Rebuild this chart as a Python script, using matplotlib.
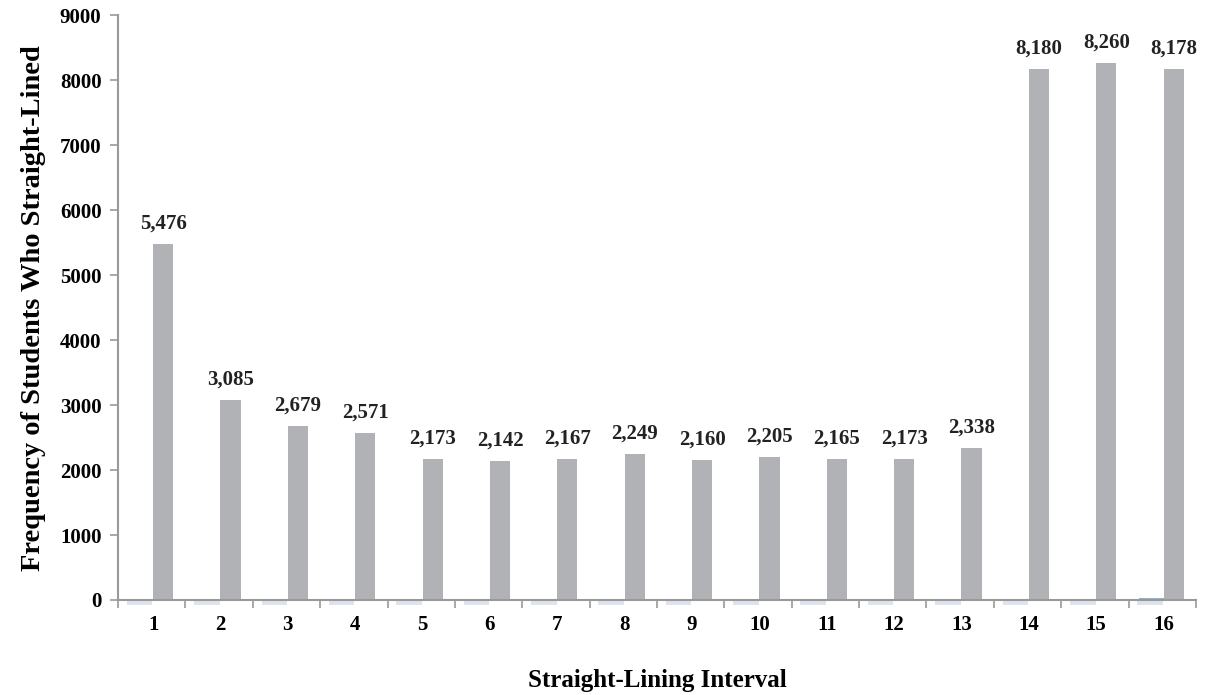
import matplotlib.pyplot as plt
import numpy as np

# interval numbers and frequencies
intervals = [str(i) for i in range(1, 17)]
frequency = [5476, 3085, 2679, 2571, 2173, 2142, 2167, 2249, 2160, 2205, 2165, 2173, 2338, 8180, 8260, 8178]
# tiny second series sitting at zero (only visible at 16)
baseline = [0, 0, 0, 0, 0, 0, 0, 0, 0, 0, 0, 0, 0, 0, 0, 25]

plt.rcParams['font.family'] = ['Liberation Serif', 'DejaVu Serif']
plt.rcParams['font.weight'] = 'bold'

fig = plt.figure(figsize=(12.07, 6.95), dpi=100)
ax = fig.add_axes([0.0978, 0.1367, 0.893, 0.8413])

x = np.arange(len(intervals))

# faint shadows under the axis, then the bars
ax.bar(x - 0.2, [-70] * len(x), width=0.38, color="#dde4ee", clip_on=False, zorder=1)
ax.bar(x - 0.18, baseline, width=0.36, color="#8fb0d0", zorder=2)
ax.bar(x + 0.15, frequency, width=0.3, color="#b1b2b6", zorder=2)

for xi, v in zip(x, frequency):
    ax.text(xi + 0.15, v + 160, f"{v:,}", ha="center", va="bottom",
            fontsize=15, fontweight="bold", color="#222222")

ax.set_xlim(-0.52, len(x) - 0.52)
ax.set_ylim(0, 9000)
ax.set_yticks(range(0, 9001, 1000))
ax.set_xticks(x)
ax.set_xticklabels(intervals)
ax.set_xticks(np.arange(len(x) + 1) - 0.52, minor=True)

ax.tick_params(axis="x", which="major", length=0, pad=11, labelsize=15)
ax.tick_params(axis="x", which="minor", length=6, color="#999999", width=1.2)
ax.tick_params(axis="y", length=6, color="#999999", width=1.2, labelsize=15, pad=6)

for side in ["top", "right"]:
    ax.spines[side].set_visible(False)
for side in ["left", "bottom"]:
    ax.spines[side].set_color("#999999")
    ax.spines[side].set_linewidth(1.5)

ax.set_xlabel("Straight-Lining Interval", fontsize=18, fontweight="bold", labelpad=24)
ax.set_ylabel("Frequency of Students Who Straight-Lined", fontsize=20.5, fontweight="bold", labelpad=10)

fig.savefig("out.png", dpi=100)
